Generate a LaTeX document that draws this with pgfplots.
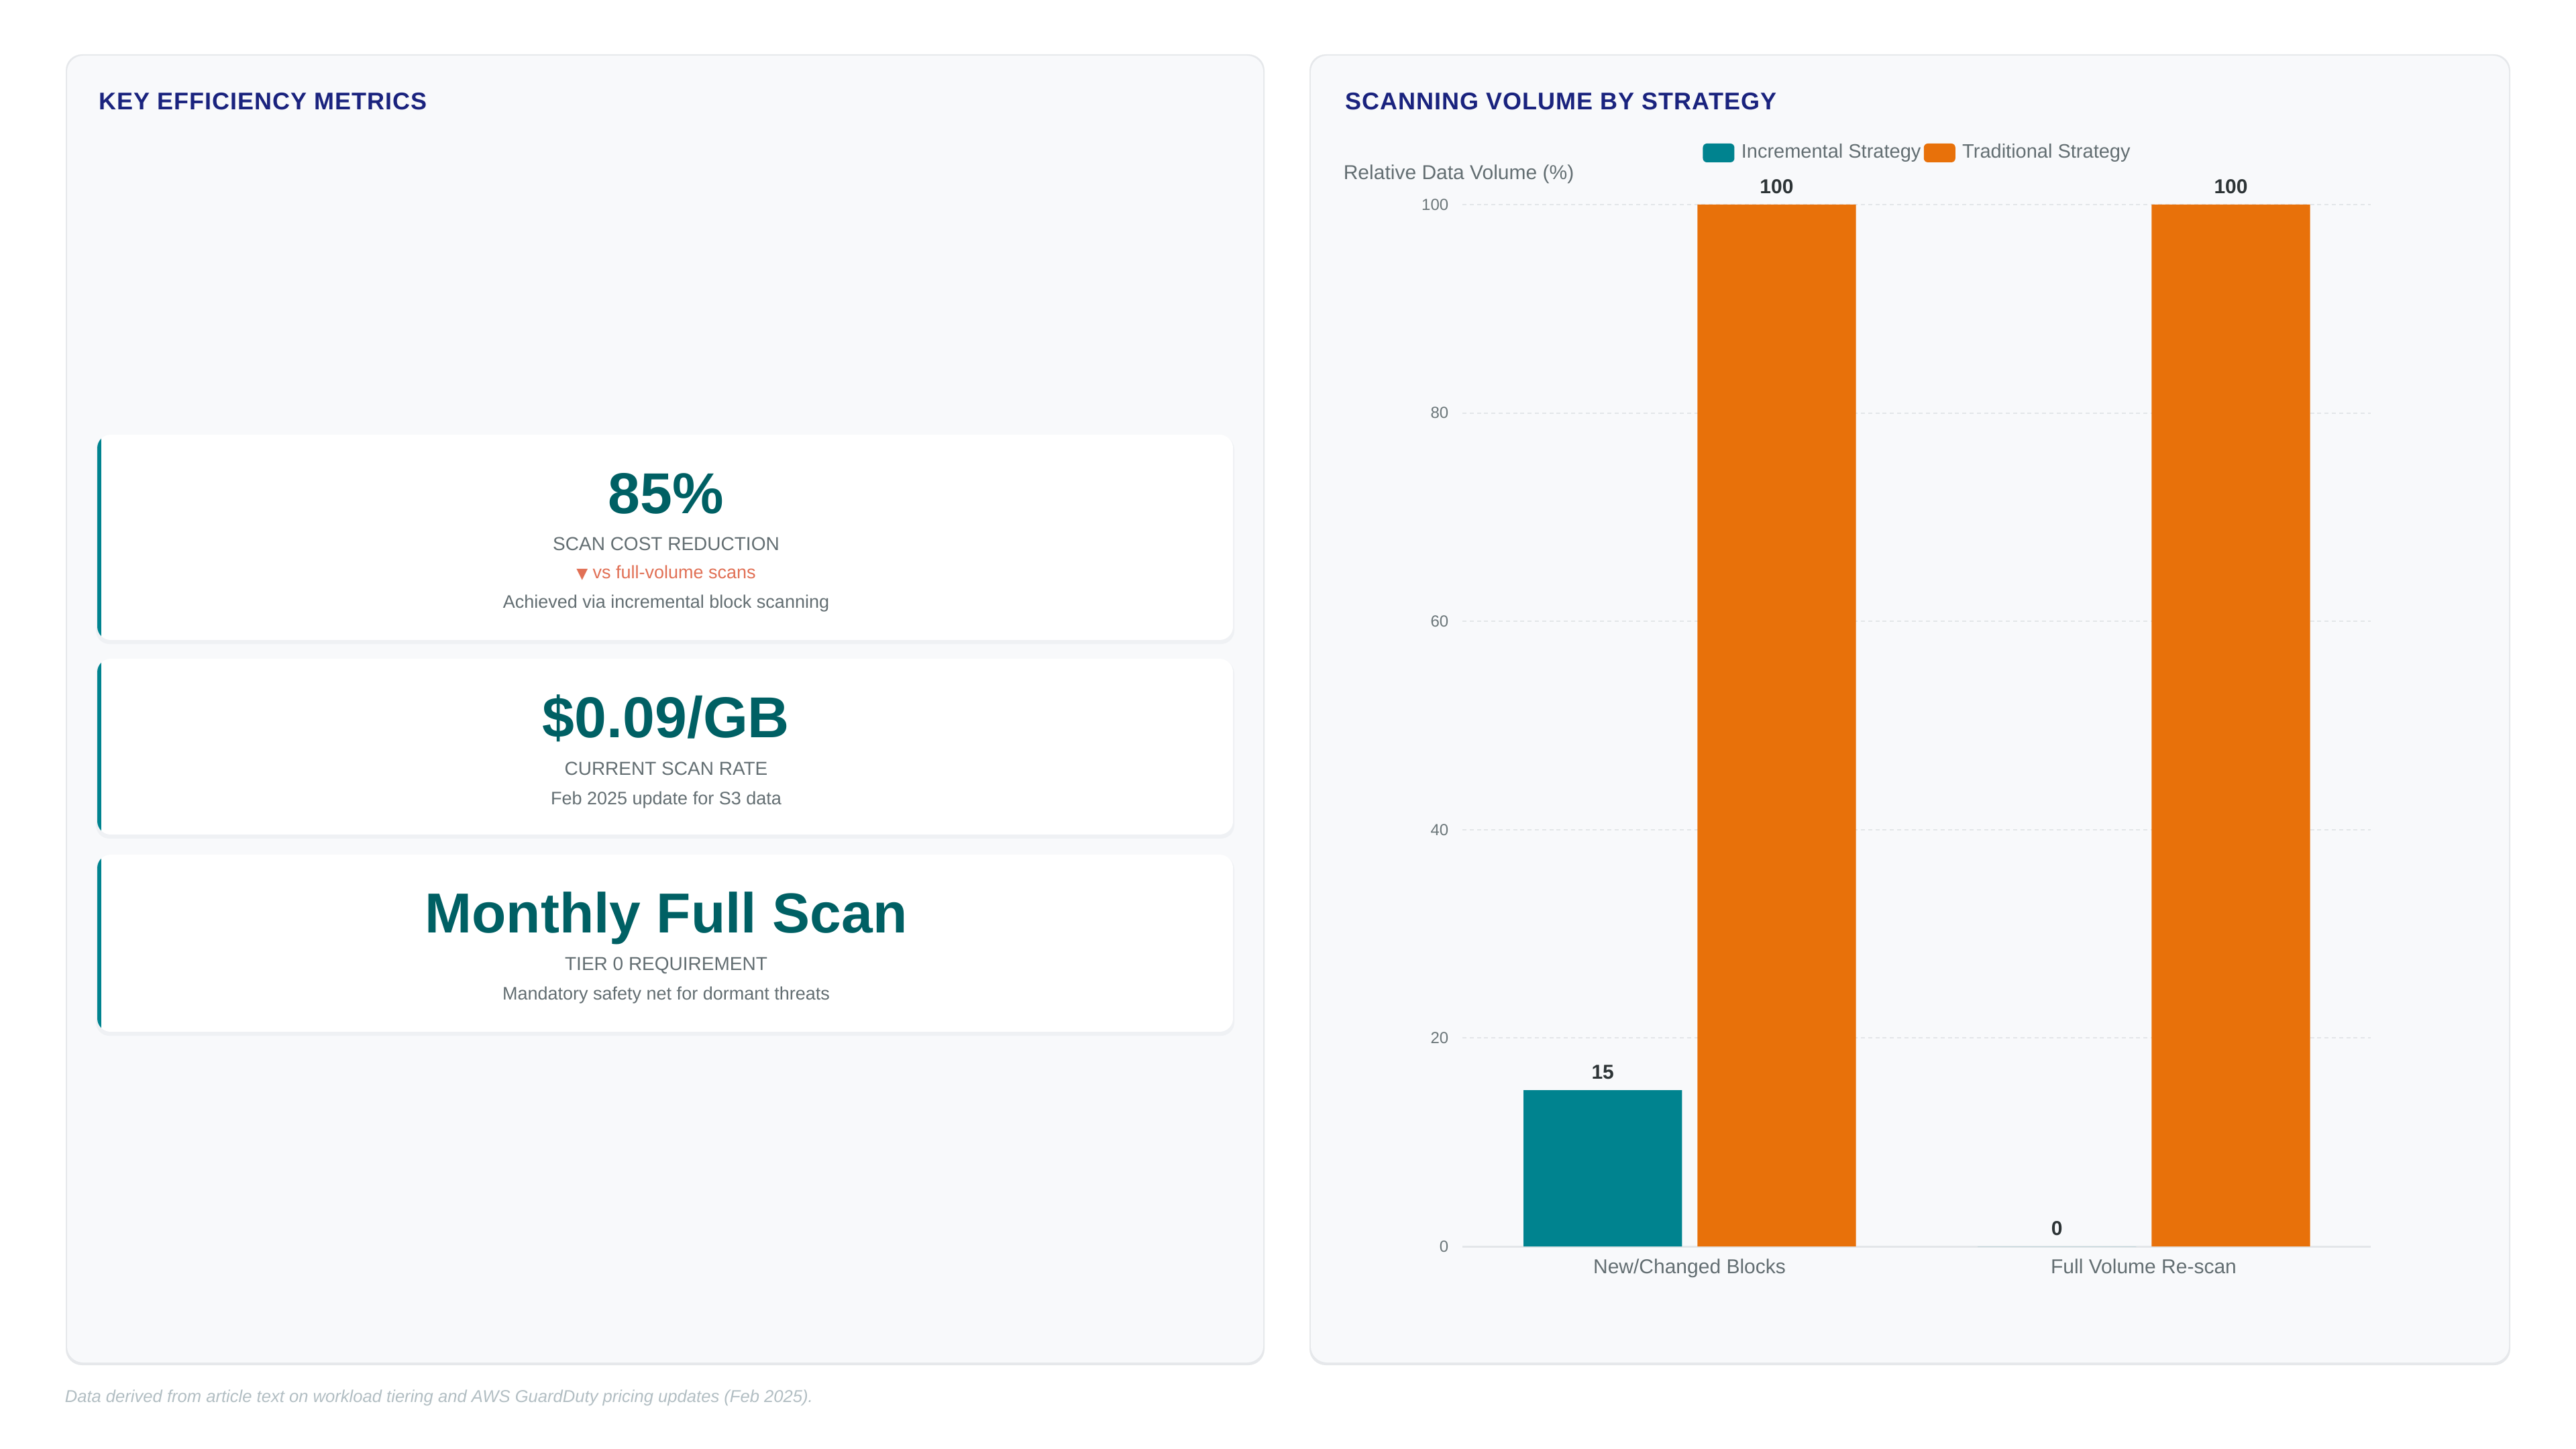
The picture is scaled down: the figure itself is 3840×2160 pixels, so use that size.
\documentclass[border=0pt]{standalone}
\usepackage{pgfplots}
\pgfplotsset{compat=1.18}
\usepackage{fontspec}
\setmainfont{Liberation Sans}
\newfontfamily\titlefont[LetterSpace=2.8]{Liberation Sans}
\newfontfamily\symfont{DejaVu Sans}

\definecolor{panelbg}{HTML}{F8F9FB}
\definecolor{panelborder}{HTML}{E6E8EB}
\definecolor{cardshadow}{HTML}{EFF1F4}
\definecolor{navy}{HTML}{1A237E}
\definecolor{tealbar}{HTML}{00838F}
\definecolor{tealdark}{HTML}{006064}
\definecolor{orangebar}{HTML}{E8710A}
\definecolor{greytext}{HTML}{636E72}
\definecolor{tickgrey}{HTML}{6B7679}
\definecolor{coral}{HTML}{E17055}
\definecolor{footgrey}{HTML}{B2BEC3}
\definecolor{darktext}{HTML}{2D3436}
\definecolor{gridgrey}{HTML}{E3E6E9}

\newcommand{\fs}[1]{\fontsize{#1}{#1}\selectfont}

% white metric card with a teal accent on its left edge
\newcommand{\card}[2]{%
  \fill[cardshadow, rounded corners=5pt] (143,#1+2) rectangle (1840,#2+6);
  \begin{scope}
    \clip[rounded corners=5pt] (145,#1) rectangle (1838,#2);
    \fill[white] (145,#1) rectangle (1838,#2);
    \fill[tealbar] (145,#1) rectangle (151,#2);
  \end{scope}}

\begin{document}
\begin{tikzpicture}[x=0.25pt,y=-0.25pt, every node/.append style={inner sep=0pt}]
% page
\fill[white] (0,0) rectangle (3840,2160);

% panels
\foreach \xa/\xb in {98/1885, 1952/3742}{
  \fill[panelborder, rounded corners=6pt] (\xa,81) rectangle (\xb,2035);
  \fill[panelbg, rounded corners=6pt] (\xa+2,83) rectangle (\xb-2,2031);
}

% ---------- left panel: key metrics ----------
\node[anchor=base west, font=\titlefont\fs{9pt}\bfseries, text=navy] at (147,164) {KEY EFFICIENCY METRICS};

\card{648}{954}
\node[anchor=base, font=\fs{21.5pt}\bfseries, text=tealdark] at (993,765) {85\%};
\node[anchor=base, font=\fs{7pt}, text=greytext] at (993,820) {SCAN COST REDUCTION};
\node[anchor=base, font=\fs{6.75pt}, text=coral] at (993,862) {{\symfont\fs{5.5pt}▼} vs full-volume scans};
\node[anchor=base, font=\fs{6.75pt}, text=greytext] at (993,906) {Achieved via incremental block scanning};

\card{982}{1244}
\node[anchor=base, font=\fs{21.5pt}\bfseries, text=tealdark] at (993,1099) {\$0.09/GB};
\node[anchor=base, font=\fs{7pt}, text=greytext] at (993,1155) {CURRENT SCAN RATE};
\node[anchor=base, font=\fs{6.75pt}, text=greytext] at (993,1199) {Feb 2025 update for S3 data};

\card{1274}{1538}
\node[anchor=base, font=\fs{21pt}\bfseries, text=tealdark] at (993,1390) {Monthly Full Scan};
\node[anchor=base, font=\fs{7pt}, text=greytext] at (993,1446) {TIER 0 REQUIREMENT};
\node[anchor=base, font=\fs{6.75pt}, text=greytext] at (993,1490) {Mandatory safety net for dormant threats};

% ---------- right panel: scanning volume ----------
\node[anchor=base west, font=\titlefont\fs{9pt}\bfseries, text=navy] at (2005,164) {SCANNING VOLUME BY STRATEGY};
\node[anchor=base west, font=\fs{7.5pt}, text=greytext] at (2002,268) {Relative Data Volume (\%)};

\begin{scope}[x=1cm,y=1cm]
\begin{axis}[
  at={(545pt,-464.5pt)}, anchor=south west,
  width=338.5pt, height=388.25pt, scale only axis,
  xmin=-0.5, xmax=1.5, ymin=0, ymax=100,
  clip=false,
  ybar, bar width=0.349,
  axis line style={draw=none},
  major tick length=0pt,
  xtick={0,1},
  xticklabels={New/Changed Blocks, Full Volume Re-scan},
  ytick={0,20,40,60,80,100},
  ymajorgrids, xmajorgrids=false,
  major grid style={gridgrey, line width=0.5pt, dash pattern=on 1.5pt off 1.2pt},
  /pgf/number format/assume math mode=true,
  yticklabel style={font=\fs{6pt}, text=tickgrey, anchor=east, inner sep=0pt, xshift=-5pt},
  xticklabel style={font=\fs{7.5pt}, text=greytext, anchor=base, inner sep=0pt, yshift=-10pt},
  legend columns=2,
  legend style={at={(0.5,1.0496)}, anchor=center, draw=none, fill=none,
    font=\fs{7.25pt}, text=greytext, inner sep=0pt,
    nodes={inner sep=0pt},
    /tikz/every odd column/.append style={column sep=2.6pt},
    /tikz/every even column/.append style={column sep=1.1pt}},
  legend image code/.code={\fill[#1, rounded corners=1.5pt] (0pt,-3.5pt) rectangle (11.75pt,3.5pt);},
  nodes near coords,
  every node near coord/.append style={font=\fs{7.5pt}\bfseries, text=darktext, anchor=base, inner sep=0pt, yshift=4.2pt},
]
% baseline at zero
\draw[gridgrey, line width=0.75pt] (axis cs:-0.5,0) -- (axis cs:1.5,0);

\addplot[fill=tealbar, draw=none, bar shift=-0.191]
  coordinates {(0,15) (1,0)};
\addlegendentry{Incremental Strategy}

\addplot[fill=orangebar, draw=none, bar shift=0.192]
  coordinates {(0,100) (1,100)};
\addlegendentry{Traditional Strategy}
\end{axis}
\end{scope}

% footer
\node[anchor=base west, font=\fs{6.4pt}\itshape, text=footgrey] at (96,2090) {Data derived from article text on workload tiering and AWS GuardDuty pricing updates (Feb 2025).};
\end{tikzpicture}
\end{document}
